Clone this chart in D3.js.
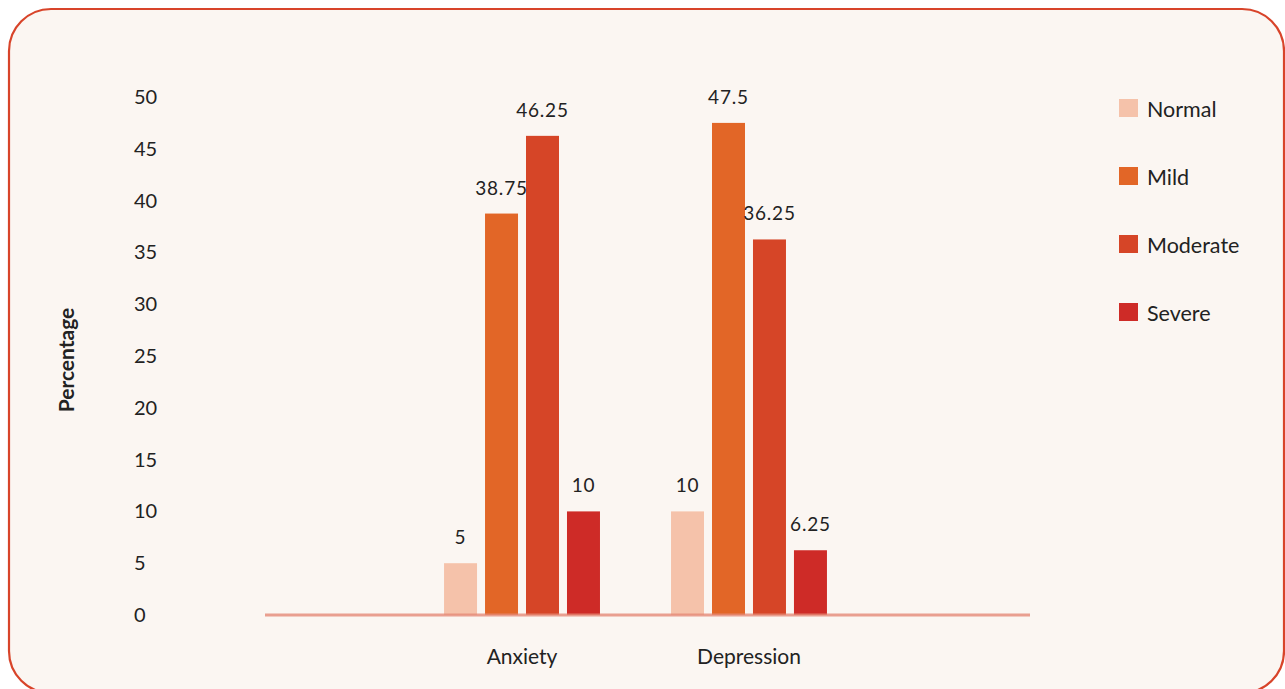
<!DOCTYPE html>
<html>
<head>
<meta charset="utf-8">
<script src="https://cdn.jsdelivr.net/npm/d3@7"></script>
<style>
  html, body { margin: 0; padding: 0; background: #ffffff; }
  svg { display: block; font-family: "Lato", "Noto Sans", sans-serif; }
</style>
</head>
<body>
<div id="chart"></div>
<script>
// data
var categories = ['Anxiety', 'Depression'];
var seriesNames = ['Normal', 'Mild', 'Moderate', 'Severe'];
var normalValues = [5, 10];
var mildValues = [38.75, 47.5];
var moderateValues = [46.25, 36.25];
var severeValues = [10, 6.25];
var yTicks = [0, 5, 10, 15, 20, 25, 30, 35, 40, 45, 50];
var colors = ['#f5c2aa', '#e26627', '#d64527', '#ce2b27'];

var seriesValues = [normalValues, mildValues, moderateValues, severeValues];

var W = 1285, H = 689;
var svg = d3.select('#chart').append('svg')
    .attr('width', W)
    .attr('height', H);

// card background
svg.append('rect')
    .attr('x', 9).attr('y', 9)
    .attr('width', 1275).attr('height', 684)
    .attr('rx', 42).attr('ry', 42)
    .attr('fill', '#fbf6f2')
    .attr('stroke', '#d8442a')
    .attr('stroke-width', 2.2);

var y = d3.scaleLinear().domain([0, 50]).range([615, 97]);

var x0 = d3.scaleBand()
    .domain(categories)
    .range([373, 898])
    .padding(0.313);

var x1 = d3.scaleBand()
    .domain(seriesNames)
    .range([0, x0.bandwidth()])
    .paddingInner(0.195)
    .paddingOuter(0);

// y tick labels (no axis line)
svg.append('g').selectAll('text')
    .data(yTicks)
    .enter().append('text')
    .attr('x', 134)
    .attr('y', function(d) { return y(d); })
    .attr('dy', '0.35em')
    .attr('font-size', 20)
    .attr('fill', '#222')
    .text(function(d) { return d; });

svg.append('text')
    .attr('transform', 'translate(74,' + 360 + ') rotate(-90)')
    .attr('text-anchor', 'middle')
    .attr('font-size', 21)
    .attr('font-weight', 'bold')
    .attr('fill', '#222')
    .text('Percentage');

// bars
var groups = svg.append('g').selectAll('g')
    .data(categories)
    .enter().append('g')
    .attr('transform', function(d) { return 'translate(' + x0(d) + ',0)'; });

groups.selectAll('rect')
    .data(function(d, i) {
        return seriesNames.map(function(s, j) { return {name: s, value: seriesValues[j][i], idx: j}; });
    })
    .enter().append('rect')
    .attr('x', function(d) { return x1(d.name); })
    .attr('y', function(d) { return y(d.value); })
    .attr('width', x1.bandwidth())
    .attr('height', function(d) { return y(0) - y(d.value); })
    .attr('fill', function(d) { return colors[d.idx]; });

groups.selectAll('text.val')
    .data(function(d, i) {
        return seriesNames.map(function(s, j) { return {name: s, value: seriesValues[j][i]}; });
    })
    .enter().append('text')
    .attr('class', 'val')
    .attr('x', function(d) { return x1(d.name) + x1.bandwidth() / 2; })
    .attr('y', function(d) { return y(d.value) - 19; })
    .attr('text-anchor', 'middle')
    .attr('font-size', 19)
    .attr('letter-spacing', 0.8)
    .attr('fill', '#222')
    .text(function(d) { return d.value; });

// baseline
svg.append('line')
    .attr('x1', 265).attr('x2', 1030)
    .attr('y1', y(0)).attr('y2', y(0))
    .attr('stroke', '#e58a77')
    .attr('stroke-opacity', 0.8)
    .attr('stroke-width', 3);

// category labels
svg.append('g').selectAll('text')
    .data(categories)
    .enter().append('text')
    .attr('x', function(d) { return x0(d) + x0.bandwidth() / 2; })
    .attr('y', 664)
    .attr('text-anchor', 'middle')
    .attr('font-size', 21)
    .attr('fill', '#222')
    .text(function(d) { return d; });

// legend
var legend = svg.append('g').selectAll('g')
    .data(seriesNames)
    .enter().append('g')
    .attr('transform', function(d, i) { return 'translate(1119,' + (99 + i * 68) + ')'; });

legend.append('rect')
    .attr('width', 19).attr('height', 18)
    .attr('fill', function(d, i) { return colors[i]; });

legend.append('text')
    .attr('x', 28)
    .attr('y', 17.5)
    .attr('font-size', 21.5)
    .attr('fill', '#222')
    .text(function(d) { return d; });
</script>
</body>
</html>
